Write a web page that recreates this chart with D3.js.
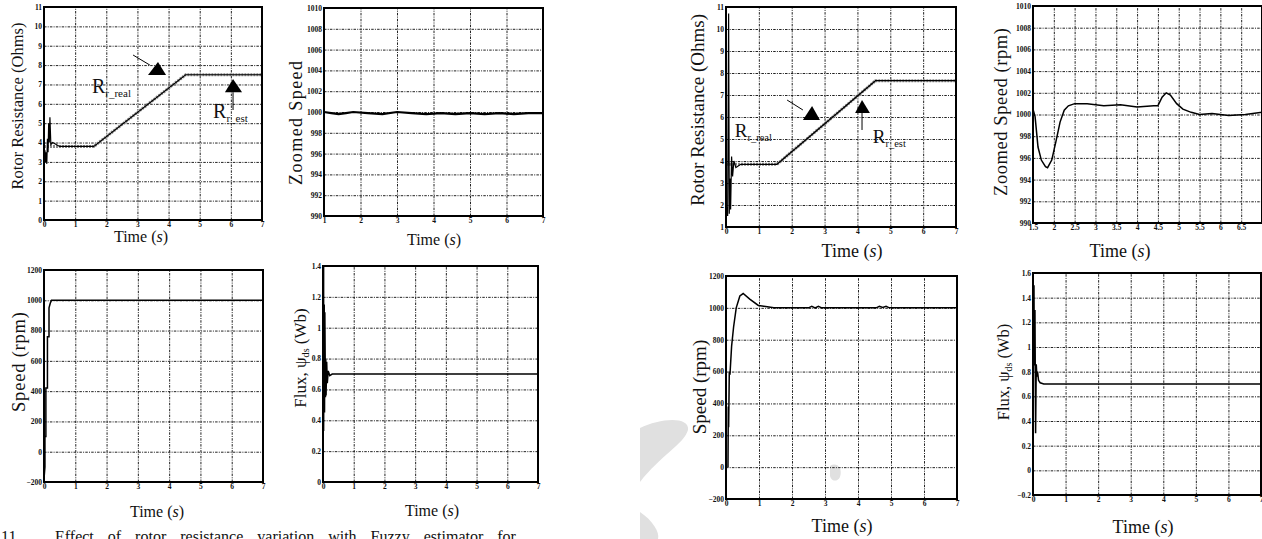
<!DOCTYPE html>
<html>
<head>
<meta charset="utf-8">
<script src="https://cdn.jsdelivr.net/npm/d3@7"></script>
<style>
body { margin: 0; background: #fff; }
svg text { font-family: "Liberation Serif", "Times New Roman", serif; fill: #111; }
.tick text { font-size: 7.5px; font-weight: bold; }
</style>
</head>
<body>
<svg id="fig" width="1262" height="539"></svg>
<script>
// ---- values ----

// left block: rotor resistance (Ohms)
const rrTicksA = [0, 1, 2, 3, 4, 5, 6, 7, 8, 9, 10, 11]
const rrRealTimeA = [0, 1.6, 4.55, 7]
const rrRealA = [3.8, 3.8, 7.5, 7.5]
const rrEstTimeA = [0, 0.03, 0.05, 0.07, 0.09, 0.11, 0.13, 0.15, 0.17, 0.19, 0.22, 0.28, 0.5, 1.6, 4.55, 7]
const rrEstA = [2.8, 3.6, 3.0, 3.5, 2.9, 4.2, 3.5, 5.0, 4.0, 5.3, 3.9, 4.0, 3.8, 3.8, 7.5, 7.5]

// left block: zoomed speed
const zsTicksA = [990, 992, 994, 996, 998, 1000, 1002, 1004, 1006, 1008, 1010]
const zsTimeA = [1, 1.2, 1.4, 1.6, 1.8, 2.2, 2.6, 3.0, 3.4, 3.8, 4.2, 4.6, 5.0, 5.4, 5.8, 6.2, 6.6, 7]
const zsA = [1000, 999.9, 999.8, 999.9, 1000, 999.9, 999.8, 1000, 999.9, 999.8, 999.9, 999.8, 999.9, 999.8, 999.9, 999.8, 999.9, 999.9]

// left block: speed (rpm)
const spTicks = [-200, 0, 200, 400, 600, 800, 1000, 1200]
const spTimeA = [0, 0.03, 0.03, 0.06, 0.06, 0.11, 0.11, 0.16, 0.16, 0.2, 0.24, 0.3, 7]
const spA = [-180, -100, 100, 100, 420, 420, 760, 760, 950, 980, 1000, 1000, 1000]

// left block: flux (Wb)
const flTicksA = [0, 0.2, 0.4, 0.6, 0.8, 1, 1.2, 1.4]
const flTimeA = [0, 0.02, 0.02, 0.04, 0.05, 0.06, 0.08, 0.09, 0.1, 0.12, 0.14, 0.17, 0.22, 0.3, 7]
const flA = [1.4, 1.4, 0.33, 1.15, 0.45, 1.1, 0.55, 0.8, 0.56, 0.78, 0.64, 0.72, 0.69, 0.7, 0.7]

// right block: rotor resistance (Ohms)
const rrTicksB = [1, 2, 3, 4, 5, 6, 7, 8, 9, 10, 11]
const rrRealTimeB = [0, 1.55, 4.55, 7]
const rrRealB = [3.85, 3.85, 7.65, 7.65]
const rrEstTimeB = [0, 0.02, 0.05, 0.08, 0.1, 0.12, 0.14, 0.17, 0.2, 0.24, 0.3, 0.45, 1.55, 4.55, 7]
const rrEstB = [1.3, 1.9, 1.5, 10.7, 1.6, 3.2, 1.8, 4.2, 3.3, 4.0, 3.7, 3.85, 3.85, 7.65, 7.65]

// right block: zoomed speed (rpm)
const zsTicksB = [990, 992, 994, 996, 998, 1000, 1002, 1004, 1006, 1008, 1010]
const zsTimeTicksB = [1.5, 2, 2.5, 3, 3.5, 4, 4.5, 5, 5.5, 6, 6.5]
const zsTimeB = [1.5, 1.55, 1.62, 1.7, 1.8, 1.85, 1.95, 2.05, 2.15, 2.25, 2.35, 2.5, 2.8, 3.2, 3.6, 4.0, 4.4, 4.5, 4.6, 4.7, 4.8, 4.95, 5.1, 5.3, 5.5, 5.8, 6.2, 6.6, 7.0]
const zsB = [1000.5, 999.8, 997.0, 995.8, 995.2, 995.1, 995.8, 997.5, 999.3, 1000.4, 1000.8, 1001.0, 1001.0, 1000.8, 1000.9, 1000.7, 1000.8, 1000.8, 1001.6, 1002.0, 1001.8, 1001.0, 1000.5, 1000.2, 1000.0, 1000.1, 999.9, 1000.0, 1000.2]

// right block: speed (rpm)
const spTimeB = [0.06, 0.07, 0.08, 0.1, 0.12, 0.17, 0.23, 0.31, 0.42, 0.52, 0.72, 0.98, 1.2, 1.45, 2.5, 2.6, 2.7, 2.8, 2.9, 4.55, 4.65, 4.75, 4.85, 4.95, 7]
const spB = [0, 380, 250, 600, 580, 760, 880, 1000, 1075, 1090, 1055, 1015, 1008, 1000, 1000, 1010, 1000, 1010, 1000, 1000, 1010, 1003, 1010, 1000, 1000]

// right block: flux (Wb)
const flTicksB = [-0.2, 0, 0.2, 0.4, 0.6, 0.8, 1, 1.2, 1.4, 1.6]
const flTimeB = [0, 0.01, 0.03, 0.04, 0.06, 0.08, 0.1, 0.12, 0.14, 0.17, 0.22, 0.33, 7]
const flB = [1.55, 0.8, 1.5, 0.85, 1.3, 0.3, 0.86, 0.76, 0.8, 0.73, 0.71, 0.7, 0.7]

const timeTicks = [0, 1, 2, 3, 4, 5, 6, 7]
const timeTicksZoomA = [1, 2, 3, 4, 5, 6, 7]

// ---- drawing ----
const svg = d3.select("#fig")
const gridDash = "2.5,1.2,1,1.2"
const fmt = d3.format("~g")

// faint watermark behind everything
const wm = svg.append("g").attr("fill", "#e0e0e0")
wm.append("path").attr("d", "M640,428 C660,418 690,416 688,430 C684,444 660,456 640,482 Z")
wm.append("path").attr("d", "M640,512 C652,520 660,532 658,539 L640,539 Z")
wm.append("path").attr("d", "M830,466 C836,462 843,467 840,477 C837,483 830,481 830,475 Z")

function series(t, v) { return d3.zip(t, v) }

function drawPanel(o) {
    let x = d3.scaleLinear().domain(o.xDomain).range([o.left, o.right])
    let y = d3.scaleLinear().domain(o.yDomain).range([o.bottom, o.top])
    let g = svg.append("g")

    // vertical grid + bottom tick labels
    g.append("g")
        .attr("transform", "translate(0," + o.bottom + ")")
        .call(d3.axisBottom(x).tickValues(o.xTicks).tickFormat(fmt).tickSize(-(o.bottom - o.top)).tickPadding(2))
        .call(a => a.select(".domain").remove())
        .call(a => a.selectAll(".tick line").attr("stroke", "#222").attr("stroke-dasharray", gridDash))

    // horizontal grid + left tick labels
    g.append("g")
        .attr("transform", "translate(" + o.left + ",0)")
        .call(d3.axisLeft(y).tickValues(o.yTicks).tickFormat(fmt).tickSize(-(o.right - o.left)).tickPadding(2))
        .call(a => a.select(".domain").remove())
        .call(a => a.selectAll(".tick line").attr("stroke", "#222").attr("stroke-dasharray", gridDash))

    let line = d3.line().x(d => x(d[0])).y(d => y(d[1]))
    o.lines.forEach(s => {
        g.append("path")
            .datum(series(s.t, s.v))
            .attr("d", line)
            .attr("fill", "none")
            .attr("stroke", s.color || "#000")
            .attr("stroke-width", s.width || 1.3)
            .attr("stroke-dasharray", s.dash || null)
    })

    // frame
    g.append("rect")
        .attr("x", o.left).attr("y", o.top)
        .attr("width", o.right - o.left).attr("height", o.bottom - o.top)
        .attr("fill", "none").attr("stroke", "#000").attr("stroke-width", 2)

    // y label
    let yl = g.append("text")
        .attr("transform", "translate(" + o.yLab[0] + "," + o.yLab[1] + ") rotate(-90)")
        .attr("text-anchor", "middle").attr("dy", "0.35em")
        .style("font-size", o.yfs + "px")
    if (o.yLab[2]) yl.attr("textLength", o.yLab[2]).attr("lengthAdjust", "spacing")
    if (o.flux) {
        yl.append("tspan").text("Flux, ψ")
        yl.append("tspan").text("ds").attr("dy", 3).style("font-size", (o.yfs * 0.6) + "px")
        yl.append("tspan").text(" (Wb)").attr("dy", -3)
    } else {
        yl.text(o.yText)
    }

    // x label
    let xl = g.append("text")
        .attr("x", o.xLab[0]).attr("y", o.xLab[1])
        .attr("text-anchor", "middle")
        .style("font-size", o.fs + "px")
    xl.append("tspan").text("Time (")
    xl.append("tspan").text("s").style("font-style", "italic")
    xl.append("tspan").text(")")

    return { x: x, y: y, g: g }
}

function annotate(p, a) {
    // R label with subscript
    let t = p.g.append("text")
        .attr("x", p.x(a.label[0])).attr("y", p.y(a.label[1]))
        .style("font-size", a.fs + "px")
    t.append("tspan").text("R")
    t.append("tspan").text(a.sub).attr("dy", 4).style("font-size", (a.fs * 0.55) + "px")
    // arrow shaft
    p.g.append("line")
        .attr("x1", p.x(a.shaft[0])).attr("y1", p.y(a.shaft[1]))
        .attr("x2", p.x(a.shaft[2])).attr("y2", p.y(a.shaft[3]))
        .attr("stroke", "#000").attr("stroke-width", 1)
    // arrow head
    p.g.append("path")
        .attr("d", d3.line()(a.head.map(h => [p.x(h[0]), p.y(h[1])])) + "Z")
        .attr("fill", "#000")
}

const pA1 = drawPanel({
    left: 44, right: 262, top: 7, bottom: 220, xDomain: [0, 7], yDomain: [0, 11],
    xTicks: timeTicks, yTicks: rrTicksA, fs: 16, yfs: 16.5,
    yText: "Rotor Resistance (Ohms)", yLab: [17, 106, 0], xLab: [141, 242],
    lines: [
        { t: rrRealTimeA, v: rrRealA, color: "#888", width: 3, dash: "2,1" },
        { t: rrEstTimeA, v: rrEstA, color: "#000", width: 1.2 }
    ]
})
annotate(pA1, { label: [1.54, 6.56], sub: "r_real", fs: 20, shaft: [2.86, 8.52, 3.4, 8.0], head: [[3.34, 7.49], [3.66, 8.16], [3.92, 7.49]] })
annotate(pA1, { label: [5.43, 5.27], sub: "r_est", fs: 20, shaft: [6.07, 5.68, 6.07, 6.6], head: [[5.81, 6.6], [6.07, 7.28], [6.36, 6.6]] })

drawPanel({
    left: 324, right: 543, top: 8, bottom: 216, xDomain: [1, 7], yDomain: [990, 1010],
    xTicks: timeTicksZoomA, yTicks: zsTicksA, fs: 16, yfs: 18,
    yText: "Zoomed Speed", yLab: [296, 123, 124], xLab: [434, 245],
    lines: [{ t: zsTimeA, v: zsA, width: 2.2 }]
})

drawPanel({
    left: 44, right: 263, top: 270, bottom: 482, xDomain: [0, 7], yDomain: [-200, 1200],
    xTicks: timeTicks, yTicks: spTicks, fs: 16, yfs: 18.5,
    yText: "Speed (rpm)", yLab: [19, 362, 100], xLab: [157, 517],
    lines: [{ t: spTimeA, v: spA, width: 1.5 }]
})

drawPanel({
    left: 323, right: 538, top: 266, bottom: 482, xDomain: [0, 7], yDomain: [0, 1.4],
    xTicks: timeTicks, yTicks: flTicksA, fs: 16, yfs: 17, flux: true,
    yLab: [300, 358, 0], xLab: [432, 516],
    lines: [{ t: flTimeA, v: flA, width: 1.5 }]
})

const pB1 = drawPanel({
    left: 726, right: 956, top: 7, bottom: 227, xDomain: [0, 7], yDomain: [1, 11],
    xTicks: timeTicks, yTicks: rrTicksB, fs: 18, yfs: 19,
    yText: "Rotor Resistance (Ohms)", yLab: [697, 110, 0], xLab: [852, 257],
    lines: [
        { t: rrRealTimeB, v: rrRealB, color: "#888", width: 3, dash: "2,1" },
        { t: rrEstTimeB, v: rrEstB, color: "#000", width: 1.2 }
    ]
})
annotate(pB1, { label: [0.27, 5.09], sub: "r_real", fs: 19, shaft: [1.86, 6.77, 2.34, 6.32], head: [[2.34, 5.86], [2.62, 6.5], [2.86, 5.86]] })
annotate(pB1, { label: [4.47, 4.82], sub: "r_est", fs: 19, shaft: [4.14, 5.41, 4.14, 6.18], head: [[3.93, 6.18], [4.14, 6.77], [4.38, 6.18]] })

drawPanel({
    left: 1033, right: 1262, top: 6, bottom: 223, xDomain: [1.5, 7], yDomain: [990, 1010],
    xTicks: zsTimeTicksB, yTicks: zsTicksB, fs: 18, yfs: 18.5,
    yText: "Zoomed  Speed (rpm)", yLab: [1001, 112, 168], xLab: [1120, 257],
    lines: [{ t: zsTimeB, v: zsB, width: 1.5 }]
})

drawPanel({
    left: 726, right: 957, top: 276, bottom: 499, xDomain: [0, 7], yDomain: [-200, 1200],
    xTicks: timeTicks, yTicks: spTicks, fs: 18, yfs: 19,
    yText: "Speed (rpm)", yLab: [699, 387, 0], xLab: [842, 532],
    lines: [{ t: spTimeB, v: spB, width: 1.5 }]
})

drawPanel({
    left: 1033, right: 1261, top: 273, bottom: 495, xDomain: [0, 7], yDomain: [-0.2, 1.6],
    xTicks: timeTicks, yTicks: flTicksB, fs: 18, yfs: 16.5, flux: true,
    yLab: [1003, 372, 0], xLab: [1143, 533],
    lines: [{ t: flTimeB, v: flB, width: 1.5 }]
})

// caption, cut off by the bottom edge
svg.append("text").attr("x", 1).attr("y", 542).style("font-size", "16px").text("11.")
svg.append("text").attr("x", 55).attr("y", 542).style("font-size", "16px")
    .style("word-spacing", "10px")
    .text("Effect of rotor resistance variation with Fuzzy estimator for")
</script>
</body>
</html>
